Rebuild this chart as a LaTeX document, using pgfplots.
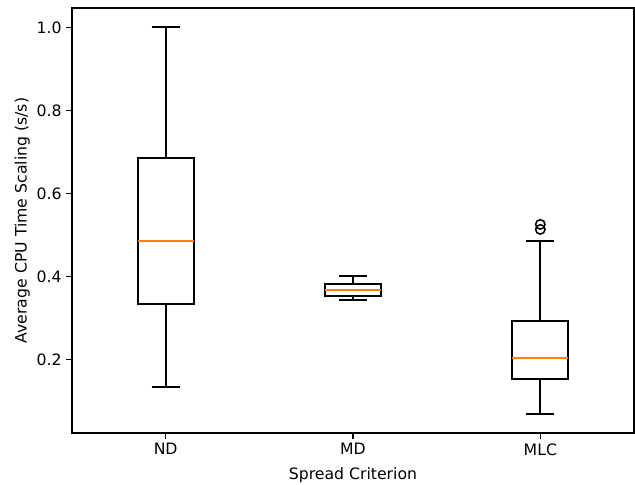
\documentclass[border=0pt]{standalone}
\usepackage{fontspec}
\setmainfont{DejaVu Sans}
\usepackage{pgfplots}
\pgfplotsset{compat=1.18}
\usepgfplotslibrary{statistics}
\definecolor{mplorange}{HTML}{FF7F0E}

\begin{document}
\begin{tikzpicture}
\path[use as bounding box] (-51.84pt,-36.72pt) rectangle (405.36pt,311.76pt);
\begin{axis}[
    at={(0,0)}, anchor=south west,
    scale only axis,
    width=404.64pt, height=306pt,
    xmin=0.5, xmax=3.5,
    ymin=0.0224, ymax=1.0465,
    xtick={1,2,3},
    xticklabels={ND,MD,MLC},
    ytick={0.2,0.4,0.6,0.8,1.0},
    yticklabel style={/pgf/number format/.cd, fixed, fixed zerofill, precision=1},
    /pgf/number format/assume math mode=true,
    tick align=outside,
    tick pos=left,
    major tick length=4pt,
    every tick/.style={black, line width=0.9pt},
    axis line style={line width=0.9pt},
    ticklabel style={font=\fontsize{11.3}{13.5}\selectfont},
    label style={font=\fontsize{11.3}{13.5}\selectfont},
    xlabel={Spread Criterion},
    ylabel={Average CPU Time Scaling (s/s)},
    xlabel style={yshift=-2pt},
    ylabel style={yshift=-2pt},
    clip=false,
    boxplot/draw direction=y,
    boxplot/every median/.style={/tikz/draw=mplorange, /tikz/line width=1.44pt},
    boxplot/every box/.style={/tikz/draw=black, /tikz/line width=1.44pt},
    boxplot/every whisker/.style={/tikz/draw=black, /tikz/line width=1.44pt},
]
\addplot[black, line width=1.44pt, boxplot prepared={
    draw direction=y,
    lower whisker=0.134, lower quartile=0.333, median=0.486,
    upper quartile=0.684, upper whisker=1.0,
    draw position=1, box extend=0.3, whisker extend=0.15}]
    coordinates {};
\addplot[black, line width=1.44pt, boxplot prepared={
    draw direction=y,
    lower whisker=0.342, lower quartile=0.352, median=0.366,
    upper quartile=0.381, upper whisker=0.401,
    draw position=2, box extend=0.3, whisker extend=0.15}]
    coordinates {};
\addplot[black, line width=1.44pt, mark=o, mark size=3.4pt,
    mark options={line width=1.1pt, fill=none},
    boxplot prepared={
    draw direction=y,
    lower whisker=0.0675, lower quartile=0.1525, median=0.202,
    upper quartile=0.292, upper whisker=0.486,
    draw position=3, box extend=0.3, whisker extend=0.15}]
    coordinates {(0,0.513) (0,0.525)};
\end{axis}
\end{tikzpicture}
\end{document}
